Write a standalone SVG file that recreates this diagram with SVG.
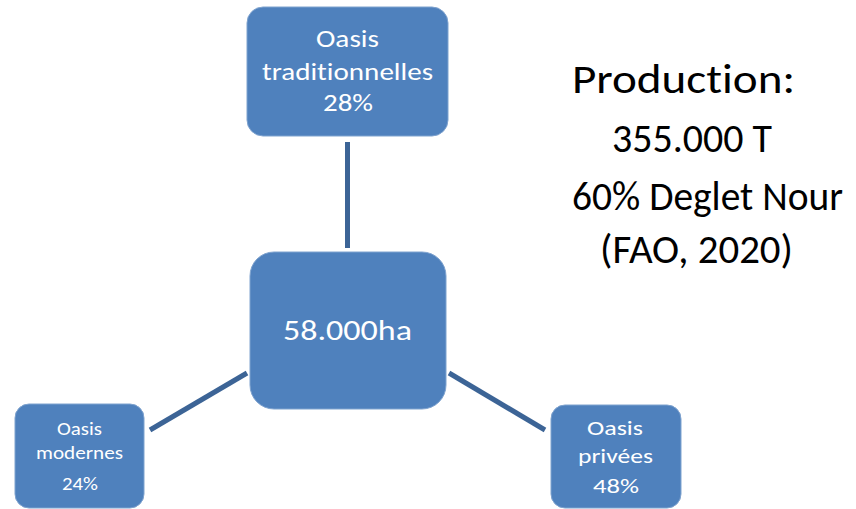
<svg xmlns="http://www.w3.org/2000/svg" width="856" height="509" viewBox="0 0 856 509">
<style>
.node{fill:#4F81BD;stroke:#7FA3CF;stroke-width:1}
.nt{fill:#FFFFFF;font-family:Carlito,Lato,"Liberation Sans",sans-serif;font-variant-ligatures:none}
.conn{stroke:#3C6496;stroke-width:5;fill:none}
.big{fill:#000000;font-family:Carlito,Lato,"Liberation Sans",sans-serif;font-size:40px;font-variant-ligatures:none}
</style>
<rect width="856" height="509" fill="#FFFFFF"/>
<g id="connectors">
<line class="conn" x1="347.5" y1="142" x2="347.5" y2="248"/>
<line class="conn" x1="150" y1="430" x2="247" y2="373"/>
<line class="conn" x1="449" y1="373" x2="545" y2="430"/>
</g>
<g id="node-center">
<rect class="node" x="250" y="252" width="196" height="157" rx="24"/>
<text class="nt" x="283" y="340" font-size="29" textLength="129" lengthAdjust="spacingAndGlyphs">58.000ha</text>
</g>
<g id="node-traditionnelles">
<rect class="node" x="247" y="7" width="201" height="129" rx="16"/>
<text class="nt" font-size="24"><tspan x="316" y="47" textLength="63" lengthAdjust="spacingAndGlyphs">Oasis</tspan><tspan x="262" y="80" textLength="171" lengthAdjust="spacingAndGlyphs">traditionnelles</tspan><tspan x="323" y="111" textLength="50" lengthAdjust="spacingAndGlyphs">28%</tspan></text>
</g>
<g id="node-modernes">
<rect class="node" x="15" y="404" width="129" height="104" rx="14"/>
<text class="nt" font-size="18"><tspan x="57" y="435" textLength="45" lengthAdjust="spacingAndGlyphs">Oasis</tspan><tspan x="36" y="459" textLength="87" lengthAdjust="spacingAndGlyphs">modernes</tspan><tspan x="62" y="490" textLength="36" lengthAdjust="spacingAndGlyphs">24%</tspan></text>
</g>
<g id="node-privees">
<rect class="node" x="551" y="405" width="130" height="103" rx="14"/>
<text class="nt" font-size="21"><tspan x="587" y="435" textLength="56" lengthAdjust="spacingAndGlyphs">Oasis</tspan><tspan x="578" y="463" textLength="75" lengthAdjust="spacingAndGlyphs">privées</tspan><tspan x="593" y="493" textLength="46" lengthAdjust="spacingAndGlyphs">48%</tspan></text>
</g>
<g id="production-text">
<text class="big"><tspan x="572" y="93" textLength="223" lengthAdjust="spacingAndGlyphs">Production:</tspan><tspan x="612" y="152" textLength="160" lengthAdjust="spacingAndGlyphs">355.000 T</tspan><tspan x="572" y="210" textLength="271" lengthAdjust="spacingAndGlyphs">60% Deglet Nour</tspan><tspan x="600" y="263" textLength="193" lengthAdjust="spacingAndGlyphs">(FAO, 2020)</tspan></text>
</g>
</svg>
